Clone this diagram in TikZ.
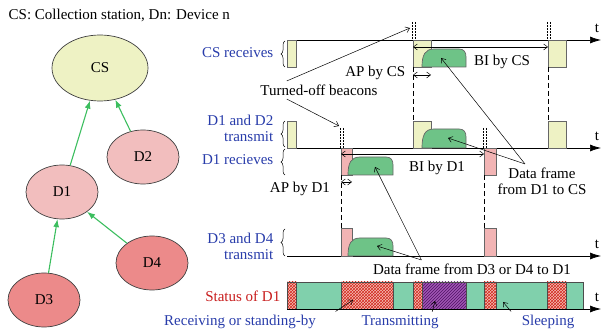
\documentclass[tikz,border=0pt]{standalone}
\usepackage{fontspec}
\setmainfont{Liberation Serif}
\usetikzlibrary{arrows.meta,positioning,shapes.geometric,patterns,decorations.pathreplacing}

\definecolor{csfill}{RGB}{238,242,196}
\definecolor{d12fill}{RGB}{242,190,190}
\definecolor{d34fill}{RGB}{236,138,138}
\definecolor{linkgreen}{RGB}{60,190,95}
\definecolor{pinkbox}{RGB}{242,180,180}
\definecolor{framegreen}{RGB}{110,195,135}
\definecolor{slgreen}{RGB}{128,208,172}
\definecolor{chkbg}{RGB}{245,190,180}
\definecolor{chkred}{RGB}{210,40,30}
\definecolor{txpurple}{RGB}{160,85,180}
\definecolor{txdark}{RGB}{80,20,100}
\definecolor{lblblue}{RGB}{40,60,170}
\definecolor{statred}{RGB}{200,30,30}

\begin{document}
\begin{tikzpicture}[x=1pt,y=-1pt,>=Latex,line width=0.7pt,font=\fontsize{15}{16}\selectfont]
  \tikzstyle{dev}=[ellipse,draw=black!75,minimum width=72pt,minimum height=54pt]
  \tikzstyle{link}=[draw=linkgreen,line width=1.1pt,-{Latex[length=8pt,width=6pt]}]
  \tikzstyle{lbl}=[text=lblblue,anchor=east,align=right]
  \tikzstyle{taxis}=[-{Latex[length=11pt,width=7pt]}]
  \tikzstyle{ptr}=[line width=0.5pt,-{Straight Barb[length=4pt,width=6pt]}]
  \tikzstyle{span}=[line width=0.5pt,{Straight Barb[length=4pt,width=6pt]}-{Straight Barb[length=4pt,width=6pt]}]
  \tikzstyle{offbeacon}=[line width=0.5pt,densely dotted]
  \tikzstyle{sync}=[line width=0.5pt,dash pattern=on 5pt off 3pt]
  \tikzstyle{brc}=[line width=0.5pt,decorate,decoration={brace,amplitude=4pt}]
  \tikzstyle{ybox}=[draw=black!60,fill=csfill]
  \tikzstyle{pbox}=[draw=black!60,fill=pinkbox]
  \tikzstyle{dframe}=[draw=black!60,fill=framegreen]
  \tikzstyle{rx}=[draw=black!70,preaction={fill=chkbg},pattern=crosshatch,pattern color=chkred]
  \tikzstyle{tx}=[draw=black!70,preaction={fill=txpurple},pattern=north east lines,pattern color=txdark]
  \tikzstyle{sl}=[draw=black!70,fill=slgreen]
  \useasboundingbox (0,0) rectangle (606,331);

  % network
  \node[anchor=west] (key) at (5,15) {CS: Collection station, Dn: Device n};
  \node[dev,fill=csfill,minimum width=96pt,minimum height=66pt] (cs) at (100,68) {CS};
  \node[dev,fill=d12fill] (d2) at (143,157) {D2};
  \node[dev,fill=d12fill] (d1) at (62,192) {D1};
  \node[dev,fill=d34fill] (d4) at (152,263) {D4};
  \node[dev,fill=d34fill] (d3) at (44,300) {D3};
  \draw[link] (d1) -- (cs);
  \draw[link] (d2) -- (cs);
  \draw[link] (d3) -- (d1);
  \draw[link] (d4) -- (d1);

  % time axes
  \foreach \y/\n in {40/1,148/2,256/3} {
    \draw[taxis] (287,\y) -- (601,\y);
    \node (t\n) at (597,\y-12) {t};
  }

  % beacons and data frames
  \foreach \xa/\xb in {287/296,413/431,548/566} {
    \draw[ybox] (\xa,40) rectangle (\xb,67);
    \draw[ybox] (\xa,121) rectangle (\xb,148);
  }
  \foreach \xa/\xb in {341/352,484/496} {
    \draw[pbox] (\xa,148) rectangle (\xb,175);
    \draw[pbox] (\xa,228) rectangle (\xb,256);
  }
  \foreach \xa/\xb/\yt/\yb in {422/466/49/67,422/466/129/148,348/393/157/175,348/393/238/256}
    \draw[dframe] (\xa,\yb) .. controls (\xa,\yt+6) and (\xa+3,\yt) .. (\xa+12,\yt) -- (\xb-7,\yt)
      .. controls (\xb-2,\yt) and (\xb,\yt+3) .. (\xb,\yt+8) -- (\xb,\yb) -- cycle;

  % turned-off beacons and sync lines
  \foreach \x/\ya/\yb in {414/22/40,549/22/40,342/128/148,485/128/148} {
    \draw[offbeacon] (\x-1.5,\ya) -- (\x-1.5,\yb);
    \draw[offbeacon] (\x+1.5,\ya) -- (\x+1.5,\yb);
  }
  \foreach \x/\ya/\yb in {413/67/121,548/67/121,341/175/228,484/175/228}
    \draw[sync] (\x,\ya) -- (\x,\yb);

  % status of D1
  \foreach \xa/\xb/\s in {287/296/rx,296/341/sl,341/393/rx,393/413/sl,413/422/rx,422/466/tx,
                          466/484/sl,484/496/rx,496/547/sl,547/566/rx,566/583/sl}
    \draw[\s] (\xa,282) rectangle (\xb,309);
  \draw[taxis] (287,309) -- (601,309);
  \node (t4) at (597,297) {t};

  % row labels
  \foreach \ya/\yb in {41/67,121/147,149/175,229/256}
    \draw[brc] (285,\yb) -- (285,\ya);
  \node[lbl] (csrx) at (277,53) {CS receives};
  \node[lbl] (d12tx) at (277,128) {D1 and D2\\transmit};
  \node[lbl] (d1rx) at (277,160) {D1 recieves};
  \node[lbl] (d34tx) at (277,246) {D3 and D4\\transmit};
  \node[lbl,text=statred] (st) at (284,296) {Status of D1};

  % access periods and beacon intervals
  \coordinate (apcsA) at (413,75);
  \coordinate (apcsB) at (431,75);
  \coordinate (bicsA) at (413,47);
  \coordinate (bicsB) at (548,47);
  \coordinate (apdA) at (341,182);
  \coordinate (apdB) at (352,182);
  \coordinate (bidA) at (341,154);
  \coordinate (bidB) at (484,154);
  \draw[span] (apcsA) -- (apcsB);
  \draw[span] (bicsA) -- (bicsB);
  \draw[span] (apdA) -- (apdB);
  \draw[span] (bidA) -- (bidB);
  \node[anchor=east] (apcs) at (409,73) {AP by CS};
  \node (bics) at (502,62) {BI by CS};
  \node (apd1) at (300,189) {AP by D1};
  \node (bid1) at (437,168) {BI by D1};

  % pointers
  \node (toff) at (319,90) {Turned-off beacons};
  \coordinate (bcn1) at (410,28);
  \coordinate (bcn2) at (339,126);
  \draw[ptr] ([xshift=30pt]toff.north west) -- (bcn1);
  \draw[ptr] ([xshift=30pt]toff.south west) -- (bcn2);

  \node[align=center] (df1) at (542,181) {Data frame\\from D1 to CS};
  \coordinate (fr1) at (441,58);
  \coordinate (fr2) at (448,138);
  \draw[ptr] ([xshift=-17pt]df1.north) -- (fr1);
  \draw[ptr] ([xshift=-17pt]df1.north) -- (fr2);

  \node (df3) at (472,269) {Data frame from D3 or D4 to D1};
  \coordinate (fr3) at (375,167);
  \coordinate (fr4) at (377,246);
  \draw[ptr] ([xshift=52pt]df3.north west) -- (fr3);
  \draw[ptr] ([xshift=52pt]df3.north west) -- (fr4);

  \node[text=lblblue] (lrx) at (240,322) {Receiving or standing-by};
  \node[text=lblblue] (ltx) at (400,322) {Transmitting};
  \node[text=lblblue] (lsl) at (548,322) {Sleeping};
  \coordinate (rxpt) at (353,300);
  \coordinate (txpt) at (435,301);
  \coordinate (slpt) at (503,302);
  \draw[ptr] ([xshift=16pt]lrx.north east) -- (rxpt);
  \draw[ptr] ([xshift=-10pt]ltx.north east) -- (txpt);
  \draw[ptr] ([xshift=-7pt]lsl.north west) -- (slpt);
\end{tikzpicture}
\end{document}
